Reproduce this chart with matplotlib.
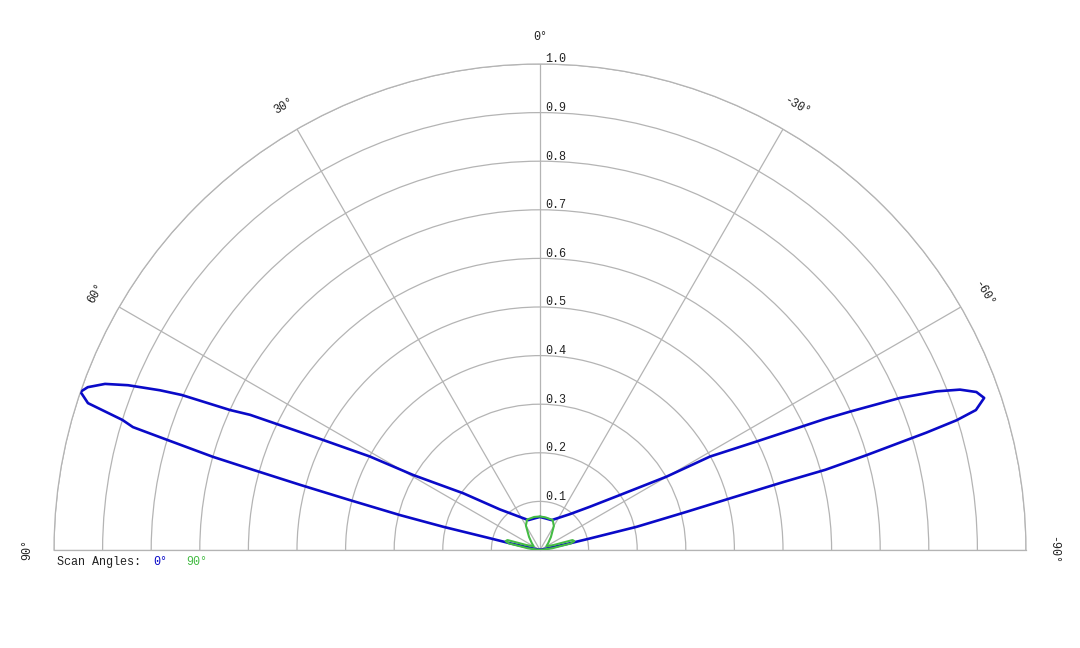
import numpy as np
import matplotlib
matplotlib.use('Agg')
import matplotlib.pyplot as plt

plt.rcParams['font.family'] = ['Liberation Mono', 'DejaVu Sans Mono']

# scan 0 deg (blue), angles in degrees, 0 = up, + = left
blue_theta = [90, 77.4, 76.8, 76.5, 76.0, 75.3, 74.8, 74.4, 74.1, 73.5, 73.2, 72.7,
              72.0, 71.0, 70.2, 69.1, 68.2, 67.2, 66.6, 65.7, 65.0, 63.1, 61.2, 59.4,
              53.5, 44.6, 21.3, 10, 0, -10, -21.3, -39.8, -49.1, -55.5, -59.9, -61.2,
              -63.4, -65.3, -65.95, -67.1, -68.2, -69.1, -70.1, -71.1, -72.2, -72.7,
              -73.1, -73.8, -74.3, -74.4, -74.8, -75.4, -76.5, -77.0, -77.4, -90]
blue_r = [0.0, 0.063, 0.106, 0.205, 0.297, 0.404, 0.512, 0.610, 0.70, 0.809, 0.875, 0.90,
          0.978, 1.0, 0.989, 0.958, 0.913, 0.848, 0.803, 0.70, 0.658, 0.50, 0.399, 0.303,
          0.196, 0.117, 0.066, 0.066, 0.068, 0.066, 0.066, 0.096, 0.136, 0.200, 0.301, 0.399,
          0.499, 0.645, 0.699, 0.804, 0.879, 0.925, 0.955, 0.966, 0.942, 0.898,
          0.831, 0.70, 0.61, 0.52, 0.405, 0.312, 0.205, 0.106, 0.063, 0.0]

# scan 90 deg (green)
green_theta = [90, 82, 78, 75.5, 73, 70, 60, 50, 40, 30, 23, 10, 0, -10, -23, -30,
               -40, -50, -60, -70, -73, -75.5, -78, -82, -90]
green_r = [0.0, 0.025, 0.065, 0.073, 0.07, 0.03, 0.015, 0.022, 0.035, 0.058, 0.068, 0.069,
           0.069, 0.068, 0.067, 0.057, 0.035, 0.022, 0.015, 0.03, 0.07, 0.073, 0.065, 0.025, 0.0]

theta_ticks = [90, 60, 30, 0, -30, -60, -90]
r_ticks = [0.1, 0.2, 0.3, 0.4, 0.5, 0.6, 0.7, 0.8, 0.9, 1.0]

grid_col = '#b4b4b4'
blue = '#0a0ac8'
green = '#44bb44'

fig = plt.figure(figsize=(10.8, 6.48), dpi=100)
# polar axes keeps a square box; the half disc sits in its middle
ax = fig.add_axes([54 / 1080, -145 / 648, 972 / 1080, 972 / 648], projection='polar')
ax.set_theta_zero_location('N')
ax.set_thetamin(-90)
ax.set_thetamax(90)
ax.set_rlim(0, 1)

ax.set_thetagrids(theta_ticks, labels=[''] * len(theta_ticks))
ax.set_rgrids(r_ticks, labels=[''] * len(r_ticks))
ax.grid(True, color=grid_col, linewidth=0.9)
ax.tick_params(length=0)
for sp in ax.spines.values():
    sp.set_color(grid_col)
    sp.set_linewidth(0.9)

ax.plot(np.deg2rad(blue_theta), blue_r, color=blue, linewidth=1.9, zorder=3)
ax.plot(np.deg2rad(green_theta), green_r, color=green, linewidth=1.5, zorder=4)

# angle labels, rotated along the arc
for t in theta_ticks:
    ax.text(np.deg2rad(t), 1.055, f'{t}°', rotation=t, ha='center', va='center',
            fontsize=8.5, color='#222222', rotation_mode='anchor')

# radius labels next to the 0 deg line
for r in r_ticks:
    ax.annotate(f'{r:.1f}', xy=(0, r), xytext=(3.5, -1), textcoords='offset points',
                ha='left', va='bottom', fontsize=8.5, color='#222222')

fig.text(57 / 1080, 1 - 562 / 648, 'Scan Angles:', fontsize=8.5, va='center', color='#222222')
fig.text(153 / 1080, 1 - 562 / 648, '0°', fontsize=8.5, va='center', color=blue)
fig.text(186 / 1080, 1 - 562 / 648, '90°', fontsize=8.5, va='center', color=green)

fig.savefig('out.png', dpi=100)
